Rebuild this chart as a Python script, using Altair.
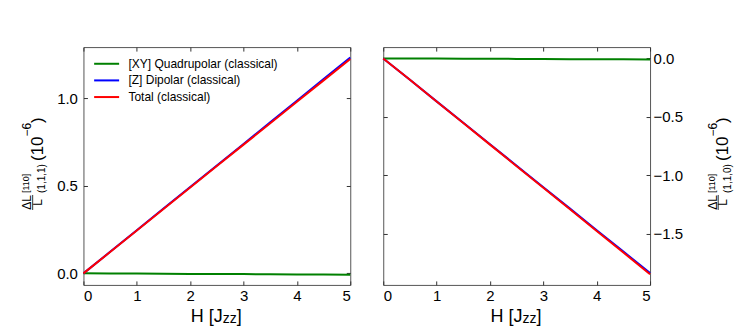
import altair as alt
import pandas as pd

# ---------------- data ----------------
H = [0.0, 0.5, 1.0, 1.5, 2.0, 2.5, 3.0, 3.5, 4.0, 4.5, 5.0]

left_quad = [0.000, -0.001, -0.001, -0.002, -0.003, -0.003, -0.004, -0.005, -0.006, -0.007, -0.008]
left_dip = [0.000, 0.123, 0.246, 0.370, 0.493, 0.616, 0.739, 0.862, 0.986, 1.109, 1.232]
left_tot = [0.000, 0.122, 0.245, 0.368, 0.490, 0.613, 0.735, 0.857, 0.980, 1.102, 1.224]

right_quad = [0.000, 0.000, -0.001, -0.002, -0.003, -0.004, -0.005, -0.006, -0.007, -0.008, -0.009]
right_dip = [0.000, -0.183, -0.367, -0.550, -0.734, -0.917, -1.101, -1.284, -1.468, -1.651, -1.835]
right_tot = [0.000, -0.183, -0.368, -0.552, -0.737, -0.921, -1.106, -1.290, -1.475, -1.659, -1.844]

series_names = ["[XY] Quadrupolar (classical)", "[Z] Dipolar (classical)", "Total (classical)"]
series_colors = ["#008000", "#0000ff", "#ff0000"]

x_ticks = [0, 1, 2, 3, 4, 5]
x_domain = [0, 5]
left_y_ticks = [0.0, 0.5, 1.0]
right_y_ticks = [0.0, -0.5, -1.0, -1.5]
left_y_domain = [-0.066, 1.292]
right_y_domain = [-1.936, 0.097]

x_title = ["H [J", "zz", "]"]
left_sub = "(1,1,1)"
right_sub = "(1,1,0)"

# ---------------- styling ----------------
FONT = "Liberation Sans"
W, HT = 267, 238
one = pd.DataFrame({"k": [0]})


def txt(x, y, s, size, align="left", baseline="alphabetic", angle=0):
    return alt.Chart(one).mark_text(
        text=s, fontSize=size, font=FONT, align=align, baseline=baseline,
        angle=angle, color="black"
    ).encode(x=alt.value(x), y=alt.value(y))


def ytitle(dx, sub):
    # fraction dL/L with super/subscripts and (10^-6), rotated
    return [
        txt(-52.0 + dx, 155.5, "\u0394L", 12, align="center", angle=270),
        txt(-41.8 + dx, 155.5, "L", 12, align="center", angle=270),
        txt(-54.3 + dx, 146, "[110]", 9, angle=270),
        txt(-38.3 + dx, 146, sub, 10, angle=270),
        txt(-40.8 + dx, 114, "(10", 17, angle=270),
        txt(-52.3 + dx, 89.5, "\u22126", 12, angle=270),
        txt(-40.8 + dx, 76, ")", 17, angle=270),
        alt.Chart(one).mark_rule(color="black", strokeWidth=0.8).encode(
            x=alt.value(-50.8 + dx), y=alt.value(148), y2=alt.value(163)),
    ]


def xtitle():
    return [
        txt(107.4, 274.7, x_title[0], 18),
        txt(139.4, 276.0, x_title[1], 14),
        txt(153.4, 274.7, x_title[2], 18),
    ]


def legend():
    parts = []
    for i, (name, col) in enumerate(zip(series_names, series_colors)):
        y = 16.7 + i * 16.65
        parts.append(alt.Chart(one).mark_rule(color=col, strokeWidth=2).encode(
            x=alt.value(10.7), x2=alt.value(35.7), y=alt.value(y)))
        parts.append(txt(45, y, name, 12, baseline="middle"))
    return parts


def panel(quad, dip, tot, ydom, yticks, side, extra):
    df = pd.DataFrame({"H": H, "q": quad, "d": dip, "t": tot})
    xs = alt.Scale(domain=x_domain, nice=False, zero=False)
    ys = alt.Scale(domain=ydom, nice=False, zero=False)
    common = dict(grid=False, domain=False, ticks=True, tickSize=4, offset=-4,
                  tickColor="#333333", tickWidth=1, title=None)
    lab = dict(labels=True, labelFontSize=15, labelFont=FONT, labelColor="black")
    xb = alt.Axis(orient="bottom", values=x_ticks, format="d", labelPadding=4, **lab, **common)
    xt = alt.Axis(orient="top", values=x_ticks, labels=False, **common)
    if side == "left":
        yl = alt.Axis(orient="left", values=yticks, format=".1f", labelPadding=6, **lab, **common)
        yr = alt.Axis(orient="right", values=yticks, labels=False, **common)
    else:
        yl = alt.Axis(orient="left", values=yticks, labels=False, **common)
        yr = alt.Axis(orient="right", values=yticks, format=".1f", labelPadding=3, **lab, **common)

    base = alt.Chart(df)
    g = base.mark_line(color=series_colors[0], strokeWidth=2).encode(
        x=alt.X("H:Q", scale=xs, axis=xb), y=alt.Y("q:Q", scale=ys, axis=yl))
    b = base.mark_line(color=series_colors[1], strokeWidth=2).encode(
        x=alt.X("H:Q", scale=xs, axis=None), y=alt.Y("d:Q", scale=ys, axis=None))
    r = base.mark_line(color=series_colors[2], strokeWidth=2).encode(
        x=alt.X("H:Q", scale=xs, axis=None), y=alt.Y("t:Q", scale=ys, axis=None))
    ghost = base.mark_line(opacity=0).encode(
        x=alt.X("H:Q", scale=xs, axis=xt), y=alt.Y("q:Q", scale=ys, axis=yr))
    return alt.layer(g, b, r, ghost, *extra).resolve_axis(
        x="independent", y="independent").properties(width=W, height=HT)


left = panel(left_quad, left_dip, left_tot, left_y_domain, left_y_ticks, "left",
             ytitle(0, left_sub) + xtitle() + legend())
right = panel(right_quad, right_dip, right_tot, right_y_domain, right_y_ticks, "right",
              ytitle(386, right_sub) + xtitle())

chart = alt.hconcat(left, right, spacing=23).properties(
    padding={"left": 12.5, "top": 38, "right": 5, "bottom": 0}
).configure(font=FONT).configure_view(stroke="#555555", strokeWidth=1)

chart.save("out.html", embed_options={"renderer": "svg", "actions": False})
